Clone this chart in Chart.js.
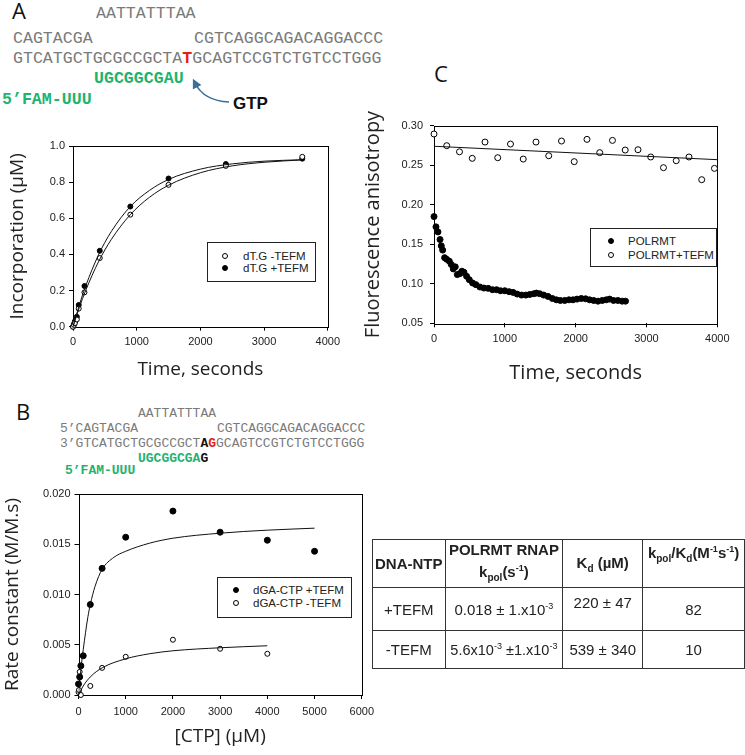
<!DOCTYPE html>
<html>
<head>
<meta charset="utf-8">
<script src="https://cdn.jsdelivr.net/npm/chart.js@4.4.0/dist/chart.umd.min.js"></script>
<style>
  html, body { margin:0; padding:0; background:#fff; }
  #fig { position:relative; width:745px; height:755px; overflow:hidden; font-family:'Liberation Sans', Arial, sans-serif; color:#111; }
  .abs { position:absolute; white-space:nowrap; line-height:1; }
  canvas { position:absolute; }
  .seqA { font-family:'Liberation Mono','Courier New',monospace; font-size:16.6px; color:#7a7a7a; }
  .seqB { font-family:'Liberation Mono','Courier New',monospace; font-size:13px; color:#7a7a7a; }
  .rna { color:#1fb36f; font-weight:bold; }
  .red { color:#e0201b; font-weight:bold; }
  .blk { color:#111; font-weight:bold; }
  .panel { font-family:'Open Sans', sans-serif; font-size:22px; color:#111; }
  .legend { position:absolute; border:1px solid #222; background:#fff; }
  .lg-txt { position:absolute; font-size:11.5px; line-height:14px; color:#222; white-space:nowrap; }
  .mk { position:absolute; width:6px; height:6px; border-radius:50%; border:1px solid #000; box-sizing:border-box; }
  .mk.fill { background:#000; }
  .mk.open { background:#fff; }
  table.kin { position:absolute; left:372px; top:539px; border-collapse:collapse; font-size:15px; color:#222; }
  table.kin td { border:1.5px solid #333; text-align:center; padding:0; }
  table.kin td.h { font-weight:bold; }
</style>
</head>
<body>
<div id="fig">
  <!-- Panel A header -->
  <div class="abs panel" style="left:12px;top:-1px;">A</div>
  <div class="abs seqA" style="left:96px;top:6px;">AATTATTTAA</div>
  <div class="abs seqA" style="left:13px;top:31px;">CAGTACGA</div>
  <div class="abs seqA" style="left:194px;top:31px;">CGTCAGGCAGACAGGACCC</div>
  <div class="abs seqA" style="left:13px;top:51px;">GTCATGCTGCGCCGCTA<span class="red">T</span>GCAGTCCGTCTGTCCTGGG</div>
  <div class="abs seqA rna" style="left:94px;top:71px;">UGCGGCGAU</div>
  <div class="abs seqA rna" style="left:2px;top:92px;">5’FAM-UUU</div>
  <div class="abs" style="left:233px;top:95px;font-size:17px;font-weight:bold;">GTP</div>
  <svg class="abs" style="left:0;top:0;" width="300" height="120">
    <defs>
      <marker id="ah" markerWidth="6" markerHeight="6" refX="3" refY="3" orient="auto">
        <path d="M0,0 L6,3 L0,6 z" fill="#3a6f9a"/>
      </marker>
    </defs>
    <path d="M229,102 Q204,101 195,83" fill="none" stroke="#3a6f9a" stroke-width="1.6" marker-end="url(#ah)"/>
  </svg>

  <!-- Panel C header -->
  <div class="abs panel" style="left:434px;top:62px;">C</div>

  <!-- Panel B header -->
  <div class="abs panel" style="left:16px;top:400px;">B</div>
  <div class="abs seqB" style="left:138px;top:407px;">AATTATTTAA</div>
  <div class="abs seqB" style="left:60px;top:422px;">5’CAGTACGA</div>
  <div class="abs seqB" style="left:217px;top:422px;">CGTCAGGCAGACAGGACCC</div>
  <div class="abs seqB" style="left:60px;top:437px;">3’GTCATGCTGCGCCGCT<span class="blk">A</span><span class="red">G</span>GCAGTCCGTCTGTCCTGGG</div>
  <div class="abs seqB" style="left:138px;top:452px;"><span class="rna">UGCGGCGA</span><span class="blk">G</span></div>
  <div class="abs seqB rna" style="left:65px;top:464px;">5’FAM-UUU</div>

  <canvas id="chartA" width="345" height="252" style="left:0;top:130px;"></canvas>
  <canvas id="chartC" width="390" height="285" style="left:355px;top:100px;"></canvas>
  <canvas id="chartB" width="380" height="275" style="left:0;top:480px;"></canvas>

  <!-- legends -->
  <div class="legend" style="left:207px;top:242px;width:107px;height:38px;">
    <span class="mk open" style="left:14px;top:10px;"></span><span class="lg-txt" style="left:35px;top:6px;">dT.G -TEFM</span>
    <span class="mk fill" style="left:14px;top:22px;"></span><span class="lg-txt" style="left:35px;top:18px;">dT.G +TEFM</span>
  </div>
  <div class="legend" style="left:590px;top:228px;width:125px;height:37px;">
    <span class="mk fill" style="left:17px;top:9px;"></span><span class="lg-txt" style="left:37px;top:5px;">POLRMT</span>
    <span class="mk open" style="left:17px;top:23px;"></span><span class="lg-txt" style="left:37px;top:19px;">POLRMT+TEFM</span>
  </div>
  <div class="legend" style="left:217px;top:577px;width:133px;height:39px;">
    <span class="mk fill" style="left:15px;top:9px;"></span><span class="lg-txt" style="left:35px;top:5px;">dGA-CTP +TEFM</span>
    <span class="mk open" style="left:15px;top:22px;"></span><span class="lg-txt" style="left:35px;top:18px;">dGA-CTP -TEFM</span>
  </div>

  <table class="kin">
    <tr style="height:38px;">
      <td class="h" style="width:72px;">DNA-NTP</td>
      <td class="h" style="width:118px;line-height:19px;">POLRMT RNAP<br>k<sub style="font-size:10px;">pol</sub>(s<sup style="font-size:9px;">-1</sup>)</td>
      <td class="h" style="width:80px;">K<sub style="font-size:10px;">d</sub> (µM)</td>
      <td class="h" style="width:101px;vertical-align:top;padding-top:4px;">k<sub style="font-size:10px;">pol</sub>/K<sub style="font-size:10px;">d</sub>(M<sup style="font-size:9px;">-1</sup>s<sup style="font-size:9px;">-1</sup>)</td>
    </tr>
    <tr style="height:43px;">
      <td>+TEFM</td>
      <td>0.018 ± 1.x10<sup style="font-size:9px;">-3</sup></td>
      <td style="vertical-align:top;padding-top:6px;">220 ± 47</td>
      <td>82</td>
    </tr>
    <tr style="height:38px;">
      <td>-TEFM</td>
      <td style="font-size:14.5px;">5.6x10<sup style="font-size:9px;">-3</sup> ±1.x10<sup style="font-size:9px;">-3</sup></td>
      <td>539 ± 340</td>
      <td>10</td>
    </tr>
  </table>
</div>

<script>
/* ------------------------------------------------------------
   Data
   ------------------------------------------------------------ */
// Panel A: incorporation vs time
var A_TIME = [0, 15, 30, 60, 90, 180, 420, 900, 1500, 2400, 3600];
var A_MINUS_TEFM = [0.0, 0.01, 0.02, 0.04, 0.10, 0.19, 0.38, 0.62, 0.785, 0.89, 0.94];
var A_PLUS_TEFM = [0.0, 0.015, 0.03, 0.055, 0.12, 0.225, 0.42, 0.665, 0.82, 0.90, 0.93];
var A_FIT_TIME = [0, 100, 200, 400, 600, 900, 1200, 1500, 2000, 2500, 3000, 3600];
var A_FIT_PLUS = [0, 0.121, 0.226, 0.397, 0.526, 0.665, 0.754, 0.815, 0.872, 0.901, 0.916, 0.924];
var A_FIT_MINUS = [0, 0.107, 0.201, 0.359, 0.482, 0.62, 0.716, 0.783, 0.852, 0.89, 0.91, 0.923];

// Panel C: fluorescence anisotropy vs time
var C_TIME_TEFM = [0, 180, 360, 540, 720, 900, 1080, 1260, 1440, 1620, 1800, 1980, 2160, 2340, 2520, 2700, 2880, 3060, 3240, 3420, 3600, 3780, 3960];
var C_TEFM = [0.2895, 0.2747, 0.267, 0.2587, 0.2793, 0.2595, 0.2768, 0.2578, 0.2793, 0.262, 0.2806, 0.2545, 0.2827, 0.2659, 0.2814, 0.2692, 0.2696, 0.2604, 0.2469, 0.2557, 0.2604, 0.2317, 0.246];
var C_FIT_TIME = [0, 4000];
var C_FIT_TEFM = [0.274, 0.257];
var C_TIME_POL = [0, 28, 56, 85, 103, 122, 150, 178, 216, 244, 272, 300, 329, 366, 394, 423, 460, 498, 545, 592, 648, 704, 765, 826, 883, 939, 1000, 1061, 1117, 1174, 1235, 1296, 1352, 1408, 1446, 1493, 1549, 1610, 1671, 1728, 1784, 1845, 1906, 1963, 2019, 2080, 2141, 2197, 2254, 2315, 2376, 2432, 2479, 2535, 2596, 2657, 2704];
var C_POL = [0.185, 0.172, 0.1656, 0.156, 0.148, 0.1426, 0.133, 0.131, 0.1286, 0.1244, 0.1188, 0.1214, 0.1116, 0.1129, 0.1159, 0.1146, 0.1095, 0.1052, 0.101, 0.0989, 0.0959, 0.0946, 0.0942, 0.0925, 0.0925, 0.0912, 0.0912, 0.090, 0.0891, 0.087, 0.0857, 0.0857, 0.0865, 0.0874, 0.0882, 0.0874, 0.0857, 0.084, 0.0814, 0.0797, 0.0789, 0.0789, 0.0797, 0.0797, 0.0806, 0.0814, 0.081, 0.0797, 0.0789, 0.078, 0.0789, 0.0797, 0.0806, 0.0789, 0.0789, 0.078, 0.078];

// Panel B: rate constant vs [CTP]
var B_CTP_PLUS = [0, 25, 50, 100, 250, 500, 1000, 2000, 3000, 4000, 5000];
var B_PLUS = [0.0011, 0.0018, 0.0029, 0.0039, 0.0090, 0.0126, 0.0157, 0.0183, 0.0162, 0.0154, 0.0143];
var B_CTP_MINUS = [0, 10, 25, 50, 250, 500, 1000, 2000, 3000, 4000];
var B_MINUS = [0.0003, 0.0005, 0.0023, 0.0000, 0.0009, 0.0027, 0.0038, 0.0055, 0.0046, 0.0041];
var B_FIT_CTP_PLUS = [0, 50, 100, 200, 250, 350, 500, 750, 1000, 1500, 2000, 3000, 4000, 5000];
var B_FIT_PLUS = [0, 0.0025, 0.0045, 0.0078, 0.0090, 0.0108, 0.0125, 0.0137, 0.0143, 0.0151, 0.0156, 0.0161, 0.0164, 0.0166];
var B_FIT_CTP_MINUS = [0, 100, 250, 500, 1000, 1500, 2000, 3000, 4000];
var B_FIT_MINUS = [0, 0.0009, 0.0018, 0.0027, 0.0036, 0.0041, 0.0044, 0.0047, 0.0049];

/* ------------------------------------------------------------
   Helpers
   ------------------------------------------------------------ */
var TICK_FONT = { family: "'Liberation Sans', Arial, sans-serif", size: 11 };

function toPoints(xs, ys) {
  return xs.map(function(x, i) { return { x: x, y: ys[i] }; });
}

function markers(xs, ys, filled, r) {
  return {
    data: toPoints(xs, ys), showLine: false, clip: false,
    pointRadius: r, pointBorderWidth: 1, pointBorderColor: '#000',
    pointBackgroundColor: filled ? '#000' : '#fff'
  };
}

function fitLine(xs, ys) {
  return {
    data: toPoints(xs, ys), showLine: true, pointRadius: 0,
    borderColor: '#111', borderWidth: 1, cubicInterpolationMode: 'monotone'
  };
}

// plot box around the chart area, drawn below the data
var framePlugin = {
  id: 'frame',
  beforeDatasetsDraw: function(chart) {
    var a = chart.chartArea, c = chart.ctx;
    c.save();
    c.strokeStyle = '#000';
    c.lineWidth = 1;
    c.strokeRect(Math.round(a.left) + 0.5, Math.round(a.top) + 0.5,
      Math.round(a.right - a.left), Math.round(a.bottom - a.top));
    c.restore();
  }
};

function axisOptions(o) {
  return {
    responsive: false, animation: false, events: [],
    layout: { padding: { top: o.padTop, right: o.padRight, left: 0, bottom: 0 } },
    plugins: { legend: { display: false }, tooltip: { enabled: false } },
    scales: {
      x: {
        type: 'linear', min: o.xMin, max: o.xMax,
        ticks: { stepSize: o.xStep, font: TICK_FONT, color: '#222', padding: o.xTickPad, maxRotation: 0, autoSkip: false,
                 callback: function(v) { return String(v); } },
        grid: { drawOnChartArea: false, drawTicks: true, tickLength: 4, color: '#000' },
        border: { display: false },
        title: { display: true, text: o.xTitle, color: '#222',
                 font: { family: "'Open Sans', sans-serif", size: o.titleSize },
                 padding: { top: 0, bottom: o.xTitlePad } },
        afterFit: function(s) { s.height = o.xAxisH; }
      },
      y: {
        type: 'linear', min: o.yMin, max: o.yMax,
        ticks: { stepSize: o.yStep, font: TICK_FONT, color: '#222', padding: o.yTickPad,
                 callback: function(v) { return v.toFixed(o.yDigits); } },
        grid: { drawOnChartArea: false, drawTicks: true, tickLength: 4, color: '#000' },
        border: { display: false },
        title: { display: true, text: o.yTitle, color: '#222',
                 font: { family: "'Open Sans', sans-serif", size: o.titleSize },
                 padding: { top: o.yTitlePad, bottom: 0 } },
        afterFit: function(s) { s.width = o.yAxisW; }
      }
    }
  };
}

/* ------------------------------------------------------------
   Charts
   ------------------------------------------------------------ */
function createPanelA() {
  new Chart(document.getElementById('chartA'), {
    type: 'scatter',
    data: { datasets: [
      fitLine(A_FIT_TIME, A_FIT_MINUS),
      fitLine(A_FIT_TIME, A_FIT_PLUS),
      markers(A_TIME, A_MINUS_TEFM, false, 2.5),
      markers(A_TIME, A_PLUS_TEFM, true, 2.5)
    ]},
    options: axisOptions({
      padTop: 16, padRight: 13, yAxisW: 73, xAxisH: 55.3,
      xMin: 0, xMax: 4000, xStep: 1000, xTickPad: 5,
      yMin: 0, yMax: 1, yStep: 0.2, yDigits: 1, yTickPad: 4,
      xTitle: 'Time, seconds', yTitle: 'Incorporation (µM)', titleSize: 19,
      xTitlePad: 0.6, yTitlePad: 6.6
    }),
    plugins: [framePlugin]
  });
}

function createPanelC() {
  new Chart(document.getElementById('chartC'), {
    type: 'scatter',
    data: { datasets: [
      fitLine(C_FIT_TIME, C_FIT_TEFM),
      markers(C_TIME_TEFM, C_TEFM, false, 3),
      markers(C_TIME_POL, C_POL, true, 3)
    ]},
    options: axisOptions({
      padTop: 25.7, padRight: 27.7, yAxisW: 79, xAxisH: 61.7,
      xMin: 0, xMax: 4000, xStep: 1000, xTickPad: 5,
      yMin: 0.05, yMax: 0.30, yStep: 0.05, yDigits: 2, yTickPad: 7,
      xTitle: 'Time, seconds', yTitle: 'Fluorescence anisotropy', titleSize: 20,
      xTitlePad: 0, yTitlePad: 6
    }),
    plugins: [framePlugin]
  });
}

function createPanelB() {
  new Chart(document.getElementById('chartB'), {
    type: 'scatter',
    data: { datasets: [
      fitLine(B_FIT_CTP_PLUS, B_FIT_PLUS),
      fitLine(B_FIT_CTP_MINUS, B_FIT_MINUS),
      markers(B_CTP_PLUS, B_PLUS, true, 3),
      markers(B_CTP_MINUS, B_MINUS, false, 2.5)
    ]},
    options: axisOptions({
      padTop: 14, padRight: 13.5, yAxisW: 78.5, xAxisH: 60,
      xMin: 0, xMax: 6000, xStep: 1000, xTickPad: 6,
      yMin: 0, yMax: 0.02, yStep: 0.005, yDigits: 3, yTickPad: 4,
      xTitle: '[CTP] (µM)', yTitle: 'Rate constant (M/M.s)', titleSize: 19,
      xTitlePad: 6.9, yTitlePad: 1.6
    }),
    plugins: [framePlugin]
  });
}

createPanelA();
createPanelC();
createPanelB();
</script>
</body>
</html>
